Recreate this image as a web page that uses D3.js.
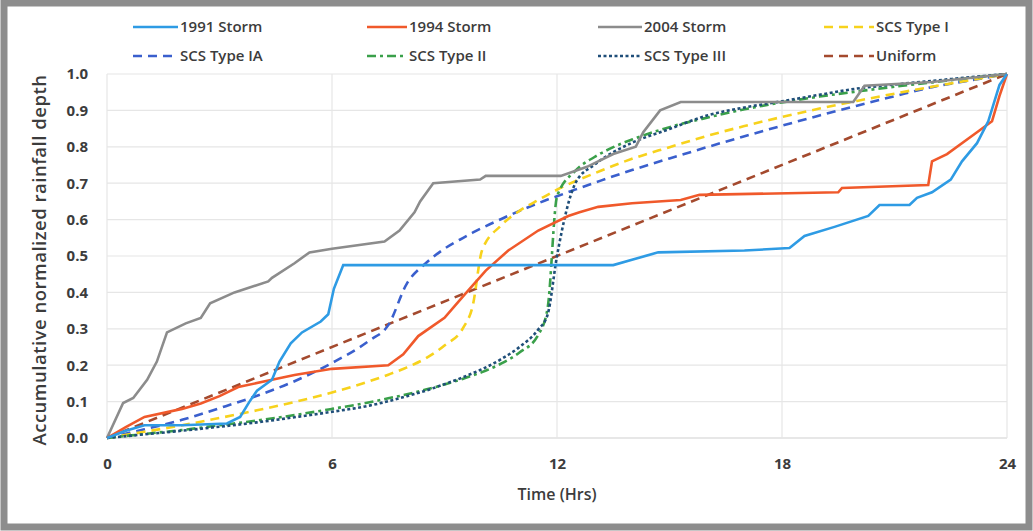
<!DOCTYPE html>
<html>
<head>
<meta charset="utf-8">
<script src="https://cdn.jsdelivr.net/npm/d3@7"></script>
<style>
  body { margin: 0; background: #fff; }
  svg { display: block; font-family: "Open Sans", sans-serif; }
</style>
</head>
<body>
<svg id="chart"></svg>
<script>
// 风暴实测数据 [小时, 累积归一化雨深]
const storm1991 = [[0,0],[0.5,0.02],[1,0.035],[2,0.035],[3.2,0.04],[3.55,0.058],[3.8,0.1],[4,0.13],[4.4,0.16],[4.6,0.21],[4.9,0.26],[5.2,0.29],[5.7,0.32],[5.9,0.34],[6.05,0.41],[6.3,0.475],[13.5,0.475],[14,0.49],[14.7,0.51],[17,0.515],[18.2,0.522],[18.6,0.555],[19.4,0.58],[20.3,0.61],[20.6,0.64],[21.4,0.64],[21.6,0.66],[22,0.675],[22.5,0.71],[22.8,0.76],[23.2,0.81],[23.5,0.87],[23.8,0.97],[24,1]];
const storm1994 = [[0,0],[0.5,0.03],[1,0.058],[2,0.08],[2.5,0.095],[3,0.115],[3.5,0.14],[4.4,0.16],[5,0.173],[6,0.19],[7.5,0.2],[7.9,0.23],[8.3,0.28],[9,0.33],[9.5,0.39],[10.1,0.46],[10.7,0.515],[11.5,0.57],[12.3,0.61],[12.6,0.62],[13.1,0.635],[14,0.645],[15.3,0.654],[15.8,0.668],[19.5,0.675],[19.6,0.687],[21.9,0.695],[22,0.76],[22.4,0.78],[23.2,0.84],[23.6,0.87],[23.8,0.94],[24,1]];
const storm2004 = [[0,0],[0.43,0.096],[0.7,0.11],[1.07,0.16],[1.33,0.21],[1.6,0.29],[2.1,0.315],[2.5,0.33],[2.75,0.37],[3.4,0.4],[4.3,0.43],[4.4,0.44],[5,0.48],[5.4,0.51],[6,0.52],[7.4,0.54],[7.8,0.57],[8.2,0.62],[8.35,0.65],[8.7,0.7],[9.95,0.71],[10.1,0.72],[12.1,0.72],[12.8,0.745],[13.5,0.78],[14.1,0.8],[14.3,0.84],[14.75,0.9],[15.3,0.923],[19.9,0.923],[20.2,0.968],[22,0.978],[24,1]];

// SCS 设计雨型
const scsHours = [0,1,2,3,4,5,6,7,7.5,8,8.5,9,9.5,9.75,10,10.5,11,11.5,11.75,12,12.5,13,13.5,14,15,16,17,18,19,20,21,22,23,24];
const scsI   = [0,.017,.035,.055,.076,.099,.125,.156,.174,.194,.219,.254,.303,.362,.515,.583,.624,.654,.668,.682,.706,.727,.748,.767,.799,.830,.857,.882,.905,.926,.946,.965,.983,1];
const scsIA  = [0,.024,.050,.082,.116,.156,.206,.268,.310,.425,.480,.520,.550,.564,.577,.601,.624,.645,.655,.664,.683,.701,.719,.736,.768,.799,.829,.858,.886,.913,.939,.964,.982,1];
const scsII  = [0,.011,.022,.035,.048,.063,.080,.098,.109,.120,.133,.147,.163,.172,.181,.204,.235,.283,.357,.663,.735,.772,.799,.820,.854,.880,.903,.922,.938,.952,.965,.977,.989,1];
const scsIII = [0,.010,.020,.031,.043,.057,.072,.089,.101,.115,.130,.148,.167,.178,.189,.216,.250,.298,.339,.500,.702,.751,.785,.811,.849,.886,.908,.925,.943,.960,.971,.981,.991,1];
const uniform = [[0,0],[24,1]];

const xTicks = [0, 6, 12, 18, 24];
const yTicks = d3.range(0, 11).map(d => d / 10);

const width = 1033, height = 531;
const margin = { left: 107, right: 26, top: 74, bottom: 93 };

const svg = d3.select("#chart").attr("width", width).attr("height", height);

// 外框
svg.append("rect")
  .attr("x", 4).attr("y", 3)
  .attr("width", width - 8).attr("height", height - 7)
  .attr("fill", "#fff")
  .attr("stroke", "#8d8d8d")
  .attr("stroke-width", 7);

const x = d3.scaleLinear().domain([0, 24]).range([margin.left, width - margin.right]);
const y = d3.scaleLinear().domain([0, 1]).range([height - margin.bottom, margin.top]);

// 网格线
svg.append("g").selectAll("line").data(yTicks).enter().append("line")
  .attr("x1", x(0)).attr("x2", x(24))
  .attr("y1", d => y(d)).attr("y2", d => y(d))
  .attr("stroke", d => d === 0 ? "#cfcfcf" : "#e6e6e6").attr("stroke-width", 1.2);
svg.append("g").selectAll("line").data(xTicks).enter().append("line")
  .attr("x1", d => x(d)).attr("x2", d => x(d))
  .attr("y1", y(0)).attr("y2", y(1))
  .attr("stroke", "#e6e6e6").attr("stroke-width", 1.2);

// 坐标轴
const xAxis = svg.append("g")
  .attr("transform", `translate(0,${y(0)})`)
  .call(d3.axisBottom(x).tickValues(xTicks).tickSize(0).tickPadding(20));
const yAxis = svg.append("g")
  .attr("transform", `translate(${x(0)},0)`)
  .call(d3.axisLeft(y).tickValues(yTicks).tickSize(0).tickPadding(19).tickFormat(d3.format(".1f")));
[xAxis, yAxis].forEach(a => {
  a.select(".domain").remove();
  a.selectAll("text")
    .attr("font-family", "Open Sans, sans-serif")
    .attr("font-size", 15).attr("font-weight", 700).attr("fill", "#3c3c3c");
});

svg.append("text")
  .attr("x", x(12)).attr("y", 500)
  .attr("text-anchor", "middle")
  .attr("font-size", 16).attr("font-weight", 600).attr("fill", "#3c3c3c")
  .text("Time (Hrs)");

svg.append("text")
  .attr("transform", `translate(46,${(y(0) + y(1)) / 2 + 4}) rotate(-90)`)
  .attr("text-anchor", "middle")
  .attr("font-size", 18.5).attr("font-weight", 600).attr("fill", "#3c3c3c")
  .attr("letter-spacing", 0.5)
  .text("Accumulative normalized rainfall depth");

// 系列
const series = [
  { label: "1991 Storm",   data: storm1991, color: "#2e9be4", dash: null, curve: d3.curveLinear },
  { label: "1994 Storm",   data: storm1994, color: "#f0592b", dash: null, curve: d3.curveLinear },
  { label: "2004 Storm",   data: storm2004, color: "#8c8c8c", dash: null, curve: d3.curveLinear },
  { label: "SCS Type I",   data: scsHours.map((h, i) => [h, scsI[i]]),   color: "#f7d21c", dash: "9,6", curve: d3.curveMonotoneX },
  { label: "SCS Type IA",  data: scsHours.map((h, i) => [h, scsIA[i]]),  color: "#3a5fcd", dash: "9,6", curve: d3.curveMonotoneX },
  { label: "SCS Type II",  data: scsHours.map((h, i) => [h, scsII[i]]),  color: "#3aa04a", dash: "9,4,3,4", curve: d3.curveMonotoneX },
  { label: "SCS Type III", data: scsHours.map((h, i) => [h, scsIII[i]]), color: "#1f4e79", dash: "3,2.5", curve: d3.curveMonotoneX },
  { label: "Uniform",      data: uniform,   color: "#a44a2e", dash: "9,6", curve: d3.curveLinear }
];

const drawOrder = [7, 4, 3, 5, 6, 2, 1, 0];
drawOrder.forEach(i => {
  const s = series[i];
  const line = d3.line().x(d => x(d[0])).y(d => y(d[1])).curve(s.curve);
  svg.append("path")
    .datum(s.data)
    .attr("d", line)
    .attr("fill", "none")
    .attr("stroke", s.color)
    .attr("stroke-width", 2.6)
    .attr("stroke-dasharray", s.dash);
});

// 图例
const legendX = [133, 367, 598, 824];
const legendLen = [45, 40, 44, 50];
const legendY = [27, 56];
series.forEach((s, i) => {
  const col = i % 4, row = Math.floor(i / 4);
  const g = svg.append("g").attr("transform", `translate(${legendX[col]},${legendY[row]})`);
  g.append("line")
    .attr("x1", 0).attr("x2", legendLen[col])
    .attr("y1", 0).attr("y2", 0)
    .attr("stroke", s.color).attr("stroke-width", 2.6)
    .attr("stroke-dasharray", s.dash);
  g.append("text")
    .attr("x", legendLen[col] + 2).attr("y", 5)
    .attr("font-size", 15).attr("font-weight", 600).attr("fill", "#3c3c3c")
    .text(s.label);
});
</script>
</body>
</html>
